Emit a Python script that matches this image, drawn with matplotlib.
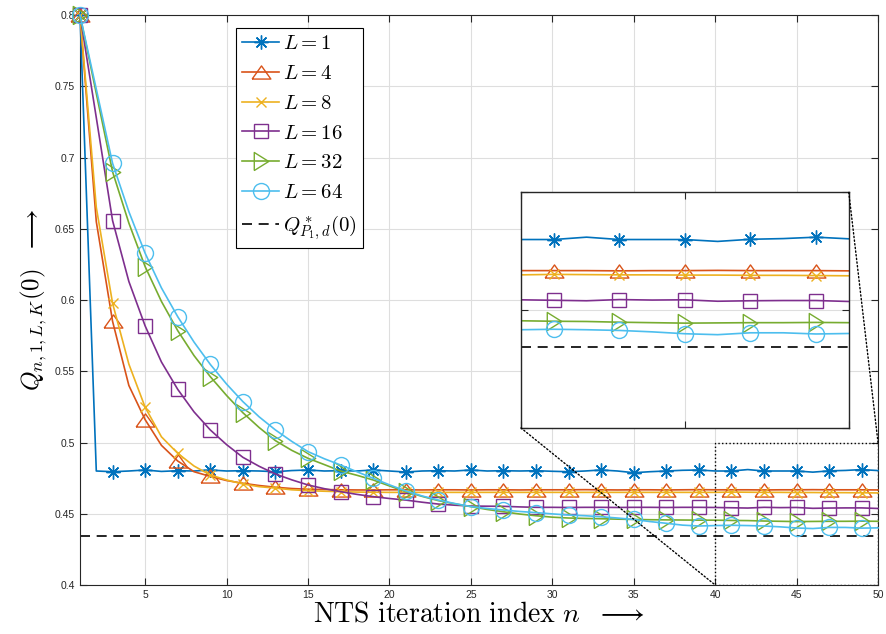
import numpy as np
import matplotlib
matplotlib.use("Agg")
import matplotlib.pyplot as plt
from matplotlib.patches import Rectangle, ConnectionPatch
from matplotlib.ticker import FuncFormatter

plt.rcParams['mathtext.fontset'] = 'cm'
plt.rcParams['font.family'] = 'Liberation Sans'

n = np.arange(1, 51)

q_L1 = [0.8, 0.4800, 0.4795, 0.4800, 0.4807, 0.4797, 0.4802, 0.4800, 0.4807, 0.4800,
        0.4802, 0.4800, 0.4795, 0.4803, 0.4807, 0.4800, 0.4802, 0.4800, 0.4807, 0.4800,
        0.4793, 0.4800, 0.4802, 0.4800, 0.4807, 0.4800, 0.4802, 0.4800, 0.4802, 0.4798,
        0.4795, 0.4800, 0.4807, 0.4800, 0.4788, 0.4795, 0.4800, 0.4805, 0.4807, 0.4800,
        0.4800, 0.4810, 0.4800, 0.4800, 0.4800, 0.4792, 0.4801, 0.4804, 0.4810, 0.4803]
q_L4 = [0.8, 0.655, 0.585, 0.540, 0.516, 0.498, 0.487, 0.4795, 0.4762, 0.4733,
        0.4714, 0.4698, 0.4686, 0.4677, 0.4672, 0.4670, 0.4668, 0.4667, 0.4667, 0.4668,
        0.4668, 0.4667, 0.4668, 0.4668, 0.4667, 0.4668, 0.4668, 0.4667, 0.4668, 0.4668,
        0.4668, 0.4669, 0.4668, 0.4667, 0.4668, 0.4668, 0.4667, 0.4668, 0.4669, 0.4668,
        0.4668, 0.4668, 0.4667, 0.4668, 0.4668, 0.4669, 0.4668, 0.4668, 0.4668, 0.4667]
q_L8 = [0.8, 0.665, 0.5977, 0.555, 0.5247, 0.504, 0.4924, 0.4835, 0.4772, 0.4737,
        0.4709, 0.4690, 0.4680, 0.4668, 0.4662, 0.4658, 0.4655, 0.4652, 0.4651, 0.4650,
        0.4650, 0.4650, 0.4650, 0.4650, 0.4650, 0.4650, 0.4650, 0.4650, 0.4650, 0.4650,
        0.4650, 0.4650, 0.4650, 0.4650, 0.4650, 0.4650, 0.4650, 0.4650, 0.4650, 0.4650,
        0.4652, 0.4651, 0.4650, 0.4650, 0.4649, 0.4649, 0.4648, 0.4648, 0.4647, 0.4646]
q_L16 = [0.8, 0.728, 0.6557, 0.613, 0.5818, 0.5565, 0.5373, 0.5215, 0.5088, 0.4985,
         0.4896, 0.4833, 0.4779, 0.4738, 0.4702, 0.4676, 0.4655, 0.4636, 0.4620, 0.4607,
         0.4596, 0.4581, 0.4568, 0.4560, 0.4554, 0.4553, 0.4552, 0.4548, 0.4545, 0.4545,
         0.4544, 0.4545, 0.4545, 0.4544, 0.4545, 0.4545, 0.4544, 0.4545, 0.4545, 0.4544,
         0.4542, 0.4540, 0.4545, 0.4543, 0.4544, 0.4538, 0.4540, 0.4541, 0.4541, 0.4537]
q_L32 = [0.8, 0.745, 0.690, 0.654, 0.6234, 0.599, 0.5785, 0.561, 0.5462, 0.533,
         0.5209, 0.5105, 0.5013, 0.4945, 0.4889, 0.4845, 0.4800, 0.4770, 0.4737, 0.4695,
         0.4655, 0.4622, 0.4592, 0.4570, 0.4550, 0.4530, 0.4514, 0.4498, 0.4486, 0.4476,
         0.4470, 0.4467, 0.4465, 0.4462, 0.4460, 0.4458, 0.4457, 0.4456, 0.4455, 0.4455,
         0.4453, 0.4452, 0.4449, 0.4447, 0.4445, 0.4446, 0.4447, 0.4447, 0.4448, 0.4447]
q_L64 = [0.8, 0.748, 0.6959, 0.662, 0.6328, 0.6085, 0.5883, 0.5705, 0.5548, 0.541,
         0.5287, 0.518, 0.5088, 0.5008, 0.4936, 0.4886, 0.4842, 0.4795, 0.4749, 0.4703,
         0.4660, 0.4625, 0.4596, 0.4572, 0.4550, 0.4537, 0.4526, 0.4516, 0.4508, 0.4499,
         0.4491, 0.4486, 0.4479, 0.4470, 0.4460, 0.4445, 0.4433, 0.4420, 0.4414, 0.4417,
         0.4419, 0.4417, 0.4414, 0.4408, 0.4400, 0.4396, 0.4404, 0.4404, 0.4399, 0.4401]
q_star = 0.4345

labels = [r'$L=1$', r'$L=4$', r'$L=8$', r'$L=16$', r'$L=32$', r'$L=64$']
series = [q_L1, q_L4, q_L8, q_L16, q_L32, q_L64]
colors = ['#0072BD', '#D95319', '#EDB120', '#7E2F8E', '#77AC30', '#4DBEEE']

# MATLAB-like marker shapes
tri_up = [(-1, -0.7), (1, -0.7), (0, 0.7), (-1, -0.7)]
tri_right = [(-0.8, -1), (-0.8, 1), (0.8, 0), (-0.8, -1)]
markers = [(8, 2, 0), tri_up, 'x', 's', tri_right, 'o']
msizes = [10, 13.5, 7.5, 9.5, 13, 11.5]

axcol = '#262626'

fig = plt.figure(figsize=(8.86, 6.34), dpi=100)
ax = fig.add_axes([0.0903, 0.0773, 0.9007, 0.899])

for y, lab, c, m, ms in zip(series, labels, colors, markers, msizes):
    ax.plot(n, y, color=c, marker=m, markersize=ms, markerfacecolor='none',
            markeredgewidth=1.0, linewidth=1.2, markevery=slice(0, None, 2),
            label=lab, clip_on=False, zorder=3)
ax.axhline(q_star, color='black', linestyle=(0, (6, 4)), linewidth=1.2,
           label=r'$Q^*_{P_1,d}(0)$', zorder=2)

ax.set_xlim(1, 50)
ax.set_ylim(0.4, 0.8)
ax.set_xticks(np.arange(5, 51, 5))
ax.set_yticks(np.arange(0.4, 0.801, 0.05))
ax.yaxis.set_major_formatter(FuncFormatter(lambda v, p: '%g' % round(v, 2)))
ax.grid(True, color='#dedede', linewidth=0.8)
ax.set_axisbelow(True)
ax.tick_params(direction='in', top=True, right=True, length=5, labelsize=7.5,
               colors=axcol, width=0.8)
for s in ax.spines.values():
    s.set_color(axcol)
    s.set_linewidth(0.8)

ax.set_xlabel(r'$\mathrm{NTS\ iteration\ index}\ n\ \ \longrightarrow$', fontsize=20, labelpad=1)
ax.set_ylabel(r'$Q_{n,1,L,K}(0)\ \ \longrightarrow$', fontsize=18, labelpad=4)

leg = ax.legend(loc='upper left', bbox_to_anchor=(0.183, 0.995), fontsize=15,
                fancybox=False, edgecolor='black', framealpha=1, handlelength=1.75,
                labelspacing=0.52, borderpad=0.28, handletextpad=0.22)
leg.get_frame().set_linewidth(0.8)

# zoom region and inset
ax.add_patch(Rectangle((40, 0.4), 10, 0.1, fill=False, edgecolor='black',
                       linestyle=':', linewidth=1.0, zorder=4))

axin = fig.add_axes([0.588, 0.325, 0.370, 0.3715])
for y, c, m, ms in zip(series, colors, markers, msizes):
    axin.plot(n, y, color=c, marker=m, markersize=ms, markerfacecolor='none',
              markeredgewidth=1.0, linewidth=1.2, markevery=slice(0, None, 2))
axin.axhline(q_star, color='black', linestyle=(0, (6, 4)), linewidth=1.2)
axin.set_xlim(40, 50)
axin.set_ylim(0.4, 0.5)
axin.set_xticks([40, 45, 50])
axin.set_yticks([0.4, 0.45, 0.5])
axin.set_xticklabels([])
axin.set_yticklabels([])
axin.grid(True, color='#dedede', linewidth=0.8)
axin.set_axisbelow(True)
axin.tick_params(direction='in', top=True, right=True, length=5, colors=axcol, width=0.8)
for s in axin.spines.values():
    s.set_color(axcol)
    s.set_linewidth(1.0)

for pa, pb in [((0, 0), (40, 0.4)), ((1, 1), (50, 0.5))]:
    con = ConnectionPatch(xyA=pa, coordsA=axin.transAxes, xyB=pb, coordsB=ax.transData,
                          linestyle=':', color='black', linewidth=1.0)
    fig.add_artist(con)

fig.savefig('out.png', dpi=100)
